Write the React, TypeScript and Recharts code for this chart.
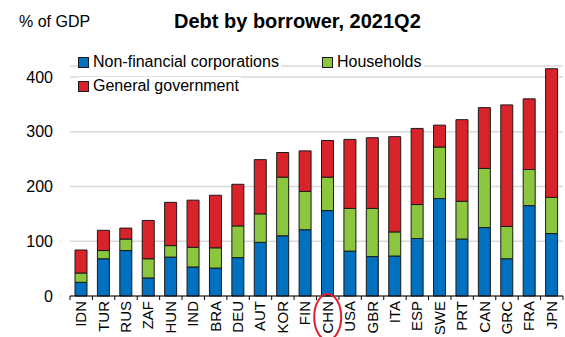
import React from "react";
import { BarChart, Bar, XAxis, YAxis, CartesianGrid } from "recharts";

const countries = ["IDN", "TUR", "RUS", "ZAF", "HUN", "IND", "BRA", "DEU", "AUT", "KOR", "FIN", "CHN", "USA", "GBR", "ITA", "ESP", "SWE", "PRT", "CAN", "GRC", "FRA", "JPN"];
const corporations = [25, 68, 83, 33, 71, 53, 51, 70, 98, 110, 121, 156, 82, 72, 73, 105, 178, 104, 125, 68, 165, 114];
const households = [17, 15, 21, 35, 21, 36, 37, 58, 52, 107, 70, 61, 78, 88, 44, 62, 94, 69, 108, 59, 66, 66];
const government = [42, 37, 20, 70, 79, 86, 96, 76, 99, 45, 74, 67, 126, 129, 174, 139, 40, 149, 111, 222, 129, 235];
const yTicks = [0, 100, 200, 300, 400];
const highlighted = "CHN";

const data = countries.map((name, i) => ({
  name,
  nfc: corporations[i],
  hh: households[i],
  gg: government[i],
}));

const W = 565;
const H = 337;
const PLOT_LEFT = 70;
const PLOT_RIGHT = 2;
const band = (W - PLOT_LEFT - PLOT_RIGHT) / countries.length;

const BLUE = "#0070c0";
const GREEN = "#8cc63f";
const RED = "#d9232a";
const FONT = "'Liberation Sans', Arial, sans-serif";

const XTick = (props: any) => {
  const { x, y, payload, index } = props;
  const last = index === countries.length - 1;
  return (
    <g>
      <line x1={x - band / 2} x2={x - band / 2} y1={y} y2={y + 4} stroke="#000" />
      {last && <line x1={x + band / 2} x2={x + band / 2} y1={y} y2={y + 4} stroke="#000" />}
      <text
        x={x + 5}
        y={y + 5}
        transform={`rotate(-90, ${x + 5}, ${y + 5})`}
        textAnchor="end"
        fontSize={15}
        fontFamily={FONT}
        fill="#000"
      >
        {payload.value}
      </text>
      {payload.value === highlighted && (
        <ellipse cx={x} cy={y + 21} rx={13.5} ry={23} fill="none" stroke="#e0202a" strokeWidth={2} />
      )}
    </g>
  );
};

const legendItems = [
  { label: "Non-financial corporations", color: BLUE, left: 78, top: 53 },
  { label: "Households", color: GREEN, left: 322, top: 53 },
  { label: "General government", color: RED, left: 78, top: 77 },
];

export default function App() {
  return (
    <div style={{ position: "absolute", left: 0, top: 0, width: W, height: H, background: "#fff", fontFamily: FONT }}>
      <BarChart width={W} height={H} data={data} margin={{ top: 66, right: PLOT_RIGHT, left: 0, bottom: 0 }} barSize={12}>
        <CartesianGrid vertical={false} stroke="#d9d9d9" strokeWidth={1.5} />
        <YAxis
          width={PLOT_LEFT}
          domain={[0, 420]}
          ticks={yTicks}
          axisLine={false}
          tickLine={false}
          dx={-9}
          tick={{ fontSize: 16, fill: "#000", fontFamily: FONT }}
        />
        <XAxis
          dataKey="name"
          height={41}
          interval={0}
          tickSize={0}
          tickMargin={0}
          axisLine={{ stroke: "#000", strokeWidth: 1 }}
          tick={<XTick />}
        />
        <Bar dataKey="nfc" stackId="a" fill={BLUE} stroke="#1a1a1a" strokeWidth={1} isAnimationActive={false} />
        <Bar dataKey="hh" stackId="a" fill={GREEN} stroke="#1a1a1a" strokeWidth={1} isAnimationActive={false} />
        <Bar dataKey="gg" stackId="a" fill={RED} stroke="#1a1a1a" strokeWidth={1} isAnimationActive={false} />
      </BarChart>
      <div style={{ position: "absolute", left: 19, top: 13, fontSize: 16 }}>% of GDP</div>
      <div style={{ position: "absolute", left: 174, top: 10, fontSize: 20, fontWeight: "bold" }}>Debt by borrower, 2021Q2</div>
      {legendItems.map((item) => (
        <div key={item.label} style={{ position: "absolute", left: item.left, top: item.top, display: "flex", alignItems: "center", fontSize: 16, background: "#fff", paddingRight: 2 }}>
          <span style={{ display: "inline-block", width: 9, height: 9, background: item.color, border: "1px solid #1a1a1a", marginRight: 4 }} />
          <span>{item.label}</span>
        </div>
      ))}
    </div>
  );
}
